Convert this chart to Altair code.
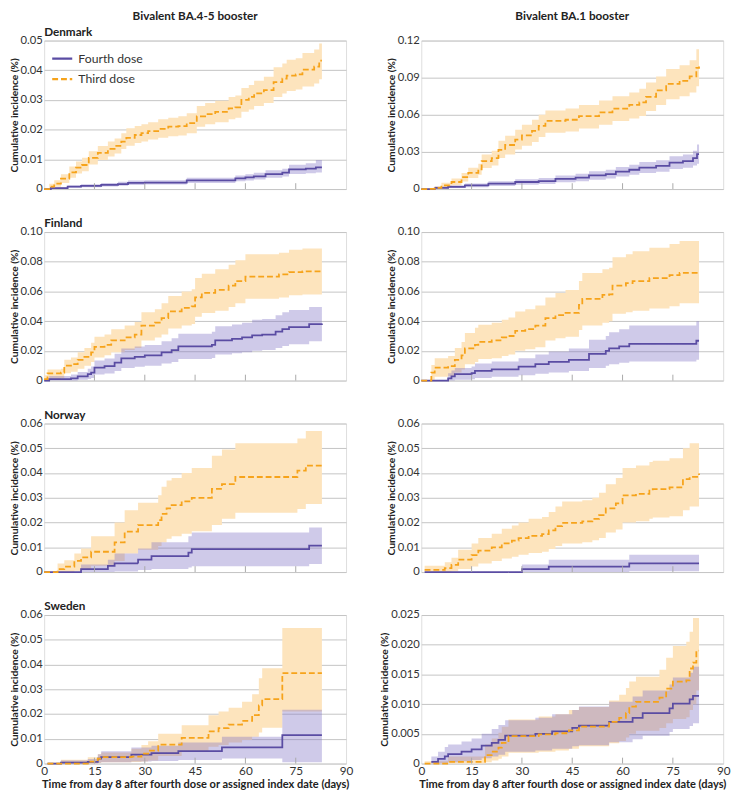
import altair as alt
import pandas as pd

SERIES = ["Fourth dose", "Third dose"]
TICK_DAYS = [15, 30, 45, 60, 75]
X_TICKS = [0, 15, 30, 45, 60, 75, 90]
X_TITLE = "Time from day 8 after fourth dose or assigned index date (days)"
Y_TITLE = "Cumulative incidence (%)"
HEADERS = ["Bivalent BA.4-5 booster", "Bivalent BA.1 booster"]
COUNTRIES = ["Denmark", "Finland", "Norway", "Sweden"]

# rows: [day, estimate, lower, upper]
DK_A_THIRD = [[0,0,0,0],[1.5,.0008,.0002,.0018],[3,.0018,.0008,.003],[5,.0035,.002,.005],[7.5,.0056,.0038,.0076],
    [9.5,.0072,.0052,.0093],[11.3,.0081,.006,.0105],[13.3,.0105,.0083,.0127],[16,.0122,.0098,.0145],[19,.0135,.011,.016],
    [21,.0145,.012,.017],[23,.016,.0135,.0188],[24.5,.0172,.0146,.0205],[27,.0182,.0155,.0212],[29,.0188,.016,.0218],
    [31,.0195,.0167,.0225],[34,.0203,.0173,.0235],[37,.021,.0178,.024],[40,.0212,.018,.0245],[42.5,.0222,.0188,.0255],
    [45.5,.0245,.021,.028],[48,.0252,.0218,.029],[51,.026,.0225,.0297],[55,.0272,.0235,.031],[57,.0275,.024,.0315],
    [58.8,.03,.026,.034],[61,.031,.0268,.035],[62.6,.0322,.028,.0365],[65.5,.0333,.029,.0378],[68.4,.036,.031,.041],
    [71,.0372,.0322,.0423],[72.3,.0382,.033,.0435],[75,.0386,.0335,.044],[77,.0402,.0345,.0458],[80.5,.0412,.0355,.047],
    [82,.0432,.037,.049],[82.8,.0432,.037,.049]]
DK_A_FOURTH = [[0,0,0,0],[2,.0003,.0001,.0006],[7,.0008,.0004,.0012],[11,.0011,.0006,.0016],[17,.0014,.0009,.002],
    [22,.0017,.0011,.0025],[25,.0021,.0014,.0029],[30,.0022,.0015,.003],[42.5,.0029,.002,.0038],[57,.0036,.0026,.0046],
    [60,.0039,.0029,.005],[62.5,.0043,.0032,.0055],[66,.005,.0038,.0063],[71,.0055,.0042,.0068],[73,.0066,.0051,.0082],
    [78,.0069,.0053,.0087],[81,.0073,.0056,.0098],[82.8,.0073,.0056,.0098]]
DK_B_THIRD = [[0,0,0,0],[2,.0002,0,.0008],[4,.001,.0002,.002],[6,.003,.0012,.005],[9,.0057,.003,.0085],
    [12,.0096,.0062,.013],[14,.013,.009,.0172],[17,.016,.0115,.0205],[18,.0226,.017,.028],[21,.025,.019,.031],
    [23,.0317,.025,.039],[25,.0356,.028,.043],[28,.04,.032,.048],[30,.0434,.035,.052],[33,.047,.038,.056],
    [35,.051,.042,.06],[37,.055,.0455,.0635],[43,.056,.0465,.065],[47,.059,.049,.068],[53,.062,.052,.0715],
    [57,.065,.055,.075],[62,.068,.057,.078],[65,.07,.059,.081],[67,.0745,.063,.086],[70,.0797,.068,.091],
    [73,.085,.0725,.097],[77,.0875,.075,.1],[80,.091,.078,.104],[82,.098,.083,.113],[82.8,.099,.083,.113]]
DK_B_FOURTH = [[0,0,0,0],[4,.001,.0003,.002],[8,.0018,.0008,.003],[13,.003,.0015,.0045],[20,.0044,.0025,.0063],
    [28,.0057,.0035,.008],[35,.0065,.004,.009],[40,.0083,.0055,.011],[46,.0093,.0063,.0123],[50,.011,.0076,.0143],
    [55,.012,.0085,.0155],[58,.014,.0102,.0178],[62,.0156,.0115,.0197],[65,.0174,.013,.0218],[70,.0187,.014,.0233],
    [74,.0213,.0162,.0265],[78,.0226,.0172,.028],[81,.025,.019,.031],[82.2,.0283,.0205,.036],[82.8,.0283,.0205,.036]]
FI_A_THIRD = [[0,.001,0,.0035],[1,.0048,.001,.0075],[5,.0054,.0015,.008],[6,.01,.005,.014],[8,.011,.006,.0155],
    [10,.014,.008,.019],[12,.016,.01,.022],[14,.019,.0125,.0255],[15,.0227,.0155,.0295],[18,.024,.017,.031],
    [20,.027,.019,.0345],[24,.029,.0205,.037],[27,.031,.022,.0395],[29,.037,.027,.046],[33,.039,.029,.048],
    [35,.042,.031,.052],[37,.0465,.035,.057],[41,.049,.037,.06],[44,.05,.038,.0615],[45,.056,.043,.069],
    [47,.059,.0455,.072],[51,.061,.047,.075],[55,.064,.0495,.078],[57,.067,.052,.081],[60,.07,.055,.085],
    [70,.0715,.056,.086],[73,.073,.0575,.088],[77,.0735,.058,.089],[82.8,.074,.059,.089]]
FI_A_FOURTH = [[0,0,0,0],[1.5,.001,0,.003],[8,.0015,0,.004],[10,.0028,.0005,.0058],[13,.0043,.001,.008],
    [14,.0054,.0018,.0095],[15,.0087,.004,.0135],[18,.0097,.0047,.0148],[21,.012,.0065,.018],[23,.015,.0085,.0215],
    [27,.016,.0093,.023],[30,.017,.01,.024],[35,.019,.0115,.0265],[38,.0205,.0125,.0285],[40,.023,.0145,.0315],
    [50,.024,.0152,.0328],[51,.027,.0175,.0365],[56,.028,.0183,.0378],[59,.029,.019,.039],[62,.0305,.02,.041],
    [65,.031,.0205,.0415],[69,.033,.022,.044],[71,.0346,.0232,.046],[73,.036,.0245,.0475],[79,.038,.0265,.0495],
    [82.8,.0385,.027,.0495]]
FI_B_THIRD = [[0,0,0,0],[3,.0054,.0005,.0105],[4,.0087,.0025,.015],[8,.0097,.003,.0165],[10,.014,.0055,.022],
    [12,.017,.0075,.026],[13,.0216,.011,.032],[16,.024,.0125,.0355],[17,.026,.0145,.0375],[21,.027,.015,.039],
    [24,.029,.0165,.041],[26,.03,.0175,.0425],[28,.0335,.02,.0465],[31,.0346,.021,.048],[34,.037,.0225,.0505],
    [37,.042,.027,.056],[40,.044,.0285,.059],[43,.0455,.0295,.061],[47,.051,.034,.067],[48,.055,.037,.0725],
    [54,.0577,.039,.075],[56,.058,.04,.076],[57,.064,.045,.083],[61,.0656,.046,.085],[63,.067,.047,.087],
    [68,.069,.0485,.0895],[74,.071,.05,.092],[77,.0725,.052,.094],[82.8,.0725,.052,.094]]
FI_B_FOURTH = [[0,0,0,0],[8,.0015,0,.005],[9,.0028,0,.0068],[10,.0043,.0006,.0085],[15,.005,.0009,.0095],
    [16,.0065,.0018,.0115],[21,.0076,.0025,.0128],[29,.0093,.0035,.015],[34,.011,.0045,.0175],[38,.0126,.0055,.0195],
    [44,.014,.0065,.0215],[50,.018,.0085,.0275],[55,.02,.01,.03],[56,.0216,.011,.0325],[59,.023,.012,.0345],
    [62,.0247,.0128,.037],[82,.0268,.014,.04],[82.8,.0268,.014,.04]]
NO_A_THIRD = [[0,0,0,0],[4,.0012,0,.0035],[6,.0022,0,.0048],[9,.0045,.0005,.0075],[11,.0059,.001,.0095],
    [14,.0082,.0025,.0145],[21,.012,.0045,.02],[24,.0163,.0075,.025],[28,.019,.009,.028],[34,.021,.0105,.031],
    [35,.0235,.012,.0345],[36.5,.0257,.0135,.037],[38,.027,.0145,.038],[41,.0286,.0155,.04],[44,.03,.0165,.042],
    [50,.0336,.019,.047],[53,.0355,.0215,.0495],[57,.0384,.024,.052],[75.5,.041,.0255,.054],[78,.043,.0275,.057],
    [82.8,.0435,.028,.057]]
NO_A_FOURTH = [[0,0,0,0],[11,.0012,0,.003],[19,.0025,0,.005],[21,.0035,.0002,.0075],[28,.005,.0008,.0095],
    [32,.0064,.0012,.012],[43,.0078,.0018,.0145],[44,.0093,.0023,.016],[79,.0107,.0033,.018],[82.8,.0107,.0033,.018]]
NO_B_THIRD = [[1,.0009,0,.0025],[7,.0016,0,.004],[9,.0029,.0003,.0058],[11,.005,.0012,.009],[15,.0068,.0022,.0115],
    [17,.0087,.0035,.0138],[21,.01,.0045,.0155],[24,.0116,.0055,.0175],[27,.0127,.0062,.0188],[29,.0137,.007,.02],
    [32,.0146,.0077,.0215],[36,.0153,.0082,.0222],[38,.0168,.0093,.0243],[40,.0186,.0105,.0265],[42,.0199,.0115,.0285],
    [48,.0205,.012,.029],[51,.0215,.0128,.03],[53,.023,.0138,.032],[55,.0257,.016,.0355],[58,.0277,.0172,.038],
    [60,.031,.02,.042],[64,.0316,.0205,.043],[68,.0329,.0215,.0445],[69,.0335,.022,.045],[74,.0342,.0225,.046],
    [78,.0375,.025,.05],[80,.0385,.0265,.052],[82.8,.0398,.027,.052]]
NO_B_FOURTH = [[1,0,0,0],[30,.0012,0,.003],[38,.0022,0,.005],[62,.0035,.0003,.007],[82.8,.0035,.0003,.007]]
SE_A_THIRD = [[1,0,0,.0004],[5,0,0,.0015],[13,.0008,0,.0025],[16,.002,.0002,.0038],[17,.0026,.0005,.0045],
    [26,.0028,.0006,.006],[29,.004,.0008,.0075],[31,.0052,.0012,.009],[34,.0076,.003,.012],[41,.0104,.005,.0155],
    [49,.013,.0068,.0195],[52,.0143,.0075,.021],[55,.0157,.0085,.0225],[59,.0172,.0095,.025],[62,.0196,.0108,.028],
    [64,.0235,.0125,.0345],[65,.026,.0145,.0385],[71,.0365,.021,.0548],[82.8,.0365,.021,.0548]]
SE_A_FOURTH = [[1,0,0,0],[5,.0004,0,.0012],[13,.0007,0,.0018],[16,.002,.0003,.0038],[17,.0026,.0005,.005],
    [26,.0036,.0008,.0065],[32,.0042,.001,.0072],[40,.005,.0014,.0085],[53,.0065,.002,.0108],[71,.0115,.0005,.0217],
    [82.8,.0115,.0005,.0217]]
SE_B_THIRD = [[1,0,0,.0004],[8,.0003,0,.0012],[19,.0014,.0002,.0032],[21,.002,.0005,.0042],[23,.0027,.0008,.0052],
    [24,.0035,.0012,.0062],[26,.0046,.0018,.0074],[35,.0049,.002,.0079],[40,.0051,.0022,.0083],[44,.0056,.0025,.009],
    [47,.0062,.0029,.0095],[56,.007,.0034,.0106],[59,.0077,.0038,.0116],[61,.0085,.0044,.0127],[62,.0096,.005,.0138],
    [64,.0104,.0055,.0146],[71,.0111,.006,.0158],[73,.0126,.0068,.0178],[75,.0138,.0075,.0198],[79,.014,.0078,.0205],
    [80,.016,.009,.0222],[81,.017,.01,.0245],[82,.019,.0123,.0245],[82.8,.019,.0123,.0245]]
SE_B_FOURTH = [[3,.0003,0,.0012],[5,.0008,0,.002],[7,.0012,.0001,.0028],[8,.0016,.0002,.0032],[12,.002,.0004,.0037],
    [15,.0024,.0006,.0042],[18,.003,.0009,.005],[21,.0035,.0012,.0058],[23,.004,.0015,.0065],[25,.0047,.002,.0073],
    [34,.005,.0022,.0077],[39,.0054,.0025,.0083],[45,.006,.0029,.009],[47,.0064,.0031,.0096],[56,.007,.0036,.0104],
    [63,.0077,.0041,.0113],[66,.0085,.0047,.0123],[74,.0093,.0053,.0133],[75,.0101,.0058,.0145],[80,.0108,.0063,.0153],
    [81,.0114,.0068,.0163],[82.8,.0114,.0068,.0163]]

Y_MAX = [0.05, 0.12, 0.10, 0.10, 0.06, 0.06, 0.06, 0.025]
Y_STEP = [0.01, 0.03, 0.02, 0.02, 0.01, 0.01, 0.01, 0.005]
Y_DEC = [2, 2, 2, 2, 2, 2, 2, 3]

PANELS = [(DK_A_THIRD, DK_A_FOURTH), (DK_B_THIRD, DK_B_FOURTH),
          (FI_A_THIRD, FI_A_FOURTH), (FI_B_THIRD, FI_B_FOURTH),
          (NO_A_THIRD, NO_A_FOURTH), (NO_B_THIRD, NO_B_FOURTH),
          (SE_A_THIRD, SE_A_FOURTH), (SE_B_THIRD, SE_B_FOURTH)]

PURPLE = "#5a4ca3"
ORANGE = "#f6a31b"
BAND_PURPLE = "#7a6cc2"
BAND_ORANGE = "#fde4bd"
FONT = "Lato"
W, H = 309, 152


def frame(rows, series):
    df = pd.DataFrame(rows, columns=["day", "est", "lo", "hi"])
    df["series"] = series
    return df


def panel(i):
    third, fourth = PANELS[i]
    df = pd.concat([frame(fourth, SERIES[0]), frame(third, SERIES[1])], ignore_index=True)
    row, col = divmod(i, 2)
    ymax, step, dec = Y_MAX[i], Y_STEP[i], Y_DEC[i]
    n = int(round(ymax / step))
    yvals = [round(k * step, 4) for k in range(n + 1)]
    bottom = row == 3

    xscale = alt.Scale(domain=[0, 90], nice=False, zero=False)
    if bottom:
        xaxis = alt.Axis(values=X_TICKS, title=X_TITLE, ticks=False, domain=False, grid=False,
                         labelFontSize=12, labelPadding=2, titleFontSize=11.3, titleFontWeight="bold",
                         titlePadding=3, labelColor="#333", titleColor="#222", labelFlush=False)
    else:
        xaxis = None
    yscale = alt.Scale(domain=[0, ymax], nice=False)
    yaxis = alt.Axis(values=yvals, title=Y_TITLE, grid=True, gridColor="#c4c4c4", gridWidth=1,
                     ticks=False, domain=False, labelFontSize=11.5, labelColor="#333", labelPadding=2,
                     titleFontSize=10.5, titleFontWeight="bold", titleColor="#222", titlePadding=1,
                     labelExpr=f"datum.value == 0 ? '0' : format(datum.value, '.{dec}f')")

    base = alt.Chart(df)
    x = alt.X("day:Q", scale=xscale, axis=xaxis)
    band_o = base.transform_filter(alt.datum.series == SERIES[1]).mark_area(
        interpolate="step-after", color=BAND_ORANGE, opacity=1).encode(
        x=x, y=alt.Y("lo:Q", scale=yscale, axis=yaxis), y2="hi:Q")
    band_p = base.transform_filter(alt.datum.series == SERIES[0]).mark_area(
        interpolate="step-after", color=BAND_PURPLE, opacity=0.36).encode(
        x=x, y=alt.Y("lo:Q", scale=yscale, axis=yaxis), y2="hi:Q")

    if i == 0:
        leg = alt.Legend(orient="top-left", title=None, symbolType="stroke", symbolStrokeWidth=2.2,
                         symbolSize=420, labelFontSize=12.5, labelColor="#333", offset=7, padding=0,
                         rowPadding=3, labelOffset=5)
    else:
        leg = None
    lines = base.mark_line(interpolate="step-after", strokeWidth=1.8).encode(
        x=x, y=alt.Y("est:Q", scale=yscale, axis=yaxis),
        stroke=alt.Stroke("series:N", scale=alt.Scale(domain=SERIES, range=[PURPLE, ORANGE]), legend=leg),
        strokeDash=alt.StrokeDash("series:N", scale=alt.Scale(domain=SERIES, range=[[1, 0], [6, 3]]), legend=leg),
        order=alt.Order("series:N", sort="ascending"))

    ticks = alt.Chart(pd.DataFrame({"d": TICK_DAYS})).mark_rule(color="#a8a8a8", strokeWidth=1).encode(
        x=alt.X("d:Q", scale=xscale), y=alt.value(H), y2=alt.value(H - 6))

    layers = [band_o, band_p, lines, ticks]
    if row == 0:
        hdr = alt.Chart(pd.DataFrame({"t": [HEADERS[col]]})).mark_text(
            fontSize=12, fontWeight="bold", color="#222", align="center", baseline="alphabetic").encode(
            x=alt.value(W / 2), y=alt.value(-21), text="t:N")
        layers.append(hdr)
    if col == 0:
        ctry = alt.Chart(pd.DataFrame({"t": [COUNTRIES[row]]})).mark_text(
            fontSize=12, fontWeight="bold", color="#222", align="left", baseline="alphabetic").encode(
            x=alt.value(0), y=alt.value(-5), text="t:N")
        layers.append(ctry)

    return alt.layer(*layers).properties(width=W, height=H)


charts = [panel(i) for i in range(8)]
chart = alt.concat(*charts, columns=2, spacing=alt.RowColnumber(row=22, column=26)).resolve_scale(
    stroke="independent", strokeDash="independent", y="independent", x="independent"
).resolve_legend(stroke="independent", strokeDash="independent").properties(
    padding={"left": 0, "top": -8, "right": 0, "bottom": 0}
).configure_view(stroke="#bdbdbd", strokeWidth=1, cornerRadius=7).configure(font=FONT)

chart.save("out.html", embed_options={"renderer": "svg", "actions": False})
